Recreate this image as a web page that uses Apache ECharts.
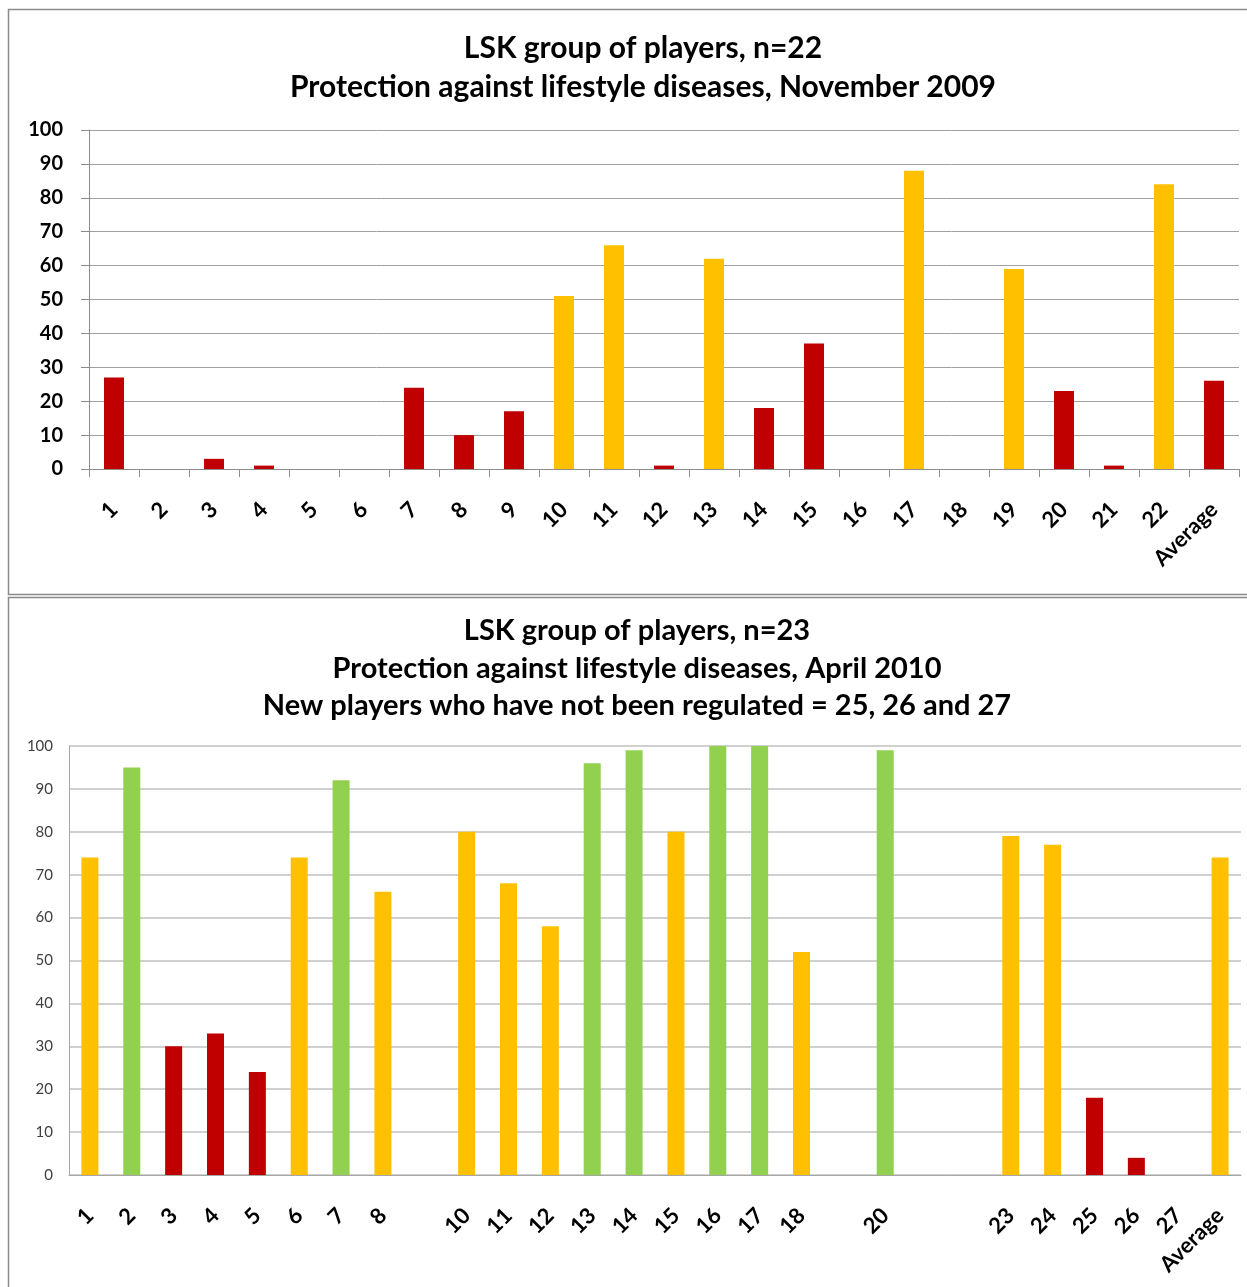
<!DOCTYPE html>
<html>
<head>
<meta charset="utf-8">
<script src="https://cdn.jsdelivr.net/npm/echarts@6/dist/echarts.min.js"></script>
<style>
  html, body { margin: 0; padding: 0; background: #fff; }
  #chart { width: 1247px; height: 1287px; }
</style>
</head>
<body>
<div id="chart"></div>
<script>
// November 2009 measurement (n=22)
const novCategories = ['1','2','3','4','5','6','7','8','9','10','11','12','13','14','15','16','17','18','19','20','21','22','Average'];
const novValues = [27, 0, 3, 1, 0, 0, 24, 10, 17, 51, 66, 1, 62, 18, 37, 0, 88, 0, 59, 23, 1, 84, 26];

// April 2010 measurement (n=23); empty slots are players no longer in the group
const aprCategories = ['1','2','3','4','5','6','7','8','','10','11','12','13','14','15','16','17','18','','20','','','23','24','25','26','27','Average'];
const aprValues = [74, 95, 30, 33, 24, 74, 92, 66, null, 80, 68, 58, 96, 99, 80, 100, 100, 52, null, 99, null, null, 79, 77, 18, 4, 0, 74];

const yTicks = { min: 0, max: 100, interval: 10 };

const novTitle = ['LSK group of players, n=22', 'Protection against lifestyle diseases, November 2009'];
const aprTitle = ['LSK group of players, n=23', 'Protection against lifestyle diseases, April 2010', 'New players who have not been regulated = 25, 26 and 27'];

// traffic-light colouring of each score
const RED = '#C00000', YELLOW = '#FFC000', GREEN = '#92D050';
function scoreColor(v) {
  if (v >= 90) return GREEN;
  if (v >= 50) return YELLOW;
  return RED;
}
function toBars(values) {
  return values.map(v => v === null ? null : { value: v, itemStyle: { color: scoreColor(v) } });
}

const FONT = 'Lato, "Open Sans", sans-serif';

const chart = echarts.init(document.getElementById('chart'), null, { renderer: 'canvas' });
chart.setOption({
  animation: false,
  backgroundColor: '#ffffff',
  graphic: [
    { type: 'rect', shape: { x: 8.5, y: 9.5, width: 1260, height: 585 }, style: { fill: 'none', stroke: '#8a8a8a', lineWidth: 1.5 }, silent: true },
    { type: 'rect', shape: { x: 8.5, y: 597.5, width: 1260, height: 720 }, style: { fill: 'none', stroke: '#8a8a8a', lineWidth: 1.5 }, silent: true },
    { type: 'text', x: 643, y: 28.5, style: { text: novTitle.join('\n'), align: 'center', verticalAlign: 'top', font: 'bold 30px ' + FONT, lineHeight: 39, fill: '#000' }, silent: true },
    { type: 'text', x: 637, y: 612, style: { text: aprTitle.join('\n'), align: 'center', verticalAlign: 'top', font: 'bold 29px ' + FONT, lineHeight: 37.5, fill: '#000' }, silent: true }
  ],
  grid: [
    { left: 89, top: 130, width: 1150, height: 339, containLabel: false },
    { left: 69, top: 746, width: 1172, height: 429, containLabel: false }
  ],
  xAxis: [
    {
      gridIndex: 0, type: 'category', data: novCategories,
      axisLine: { lineStyle: { color: '#8c8c8c', width: 1 } },
      axisTick: { show: true, length: 8, alignWithLabel: false, lineStyle: { color: '#8c8c8c' } },
      axisLabel: { interval: 0, rotate: 45, margin: 37, color: '#000', fontFamily: FONT, fontWeight: 'bold', fontSize: 22 }
    },
    {
      gridIndex: 1, type: 'category', data: aprCategories,
      axisLine: { lineStyle: { color: '#a6a6a6', width: 1 } },
      axisTick: { show: false },
      axisLabel: { interval: 0, rotate: 45, margin: 37, color: '#000', fontFamily: FONT, fontWeight: 'bold', fontSize: 22 }
    }
  ],
  yAxis: [
    {
      gridIndex: 0, type: 'value', min: yTicks.min, max: yTicks.max, interval: yTicks.interval,
      axisLine: { show: true, lineStyle: { color: '#8c8c8c' } },
      axisTick: { show: true, length: 8, lineStyle: { color: '#8c8c8c' } },
      splitLine: { lineStyle: { color: '#a0a0a0', width: 1 } },
      axisLabel: { margin: 26, color: '#000', fontFamily: FONT, fontWeight: 'bold', fontSize: 20 }
    },
    {
      gridIndex: 1, type: 'value', min: yTicks.min, max: yTicks.max, interval: yTicks.interval,
      axisLine: { show: true, lineStyle: { color: '#a6a6a6' } },
      axisTick: { show: false },
      splitLine: { lineStyle: { color: '#c0c0c0', width: 1.5 } },
      axisLabel: { margin: 16, color: '#404040', fontFamily: FONT, fontSize: 15 }
    }
  ],
  series: [
    { type: 'bar', xAxisIndex: 0, yAxisIndex: 0, barWidth: 20, data: toBars(novValues) },
    { type: 'bar', xAxisIndex: 1, yAxisIndex: 1, barWidth: 17, data: toBars(aprValues) }
  ]
});
</script>
</body>
</html>
